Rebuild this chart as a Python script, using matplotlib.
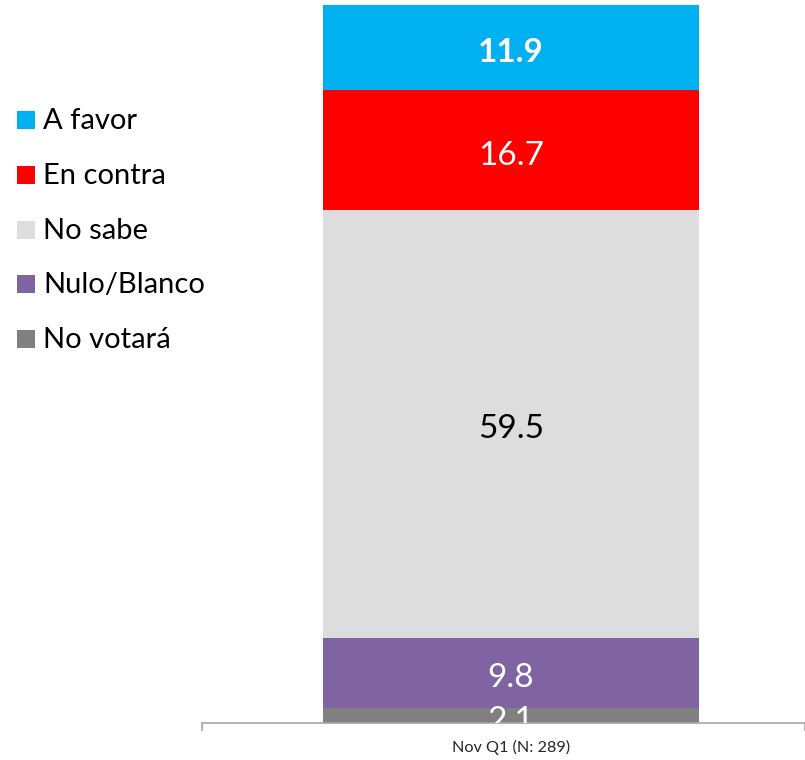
import matplotlib.pyplot as plt
from matplotlib.patches import Rectangle

# Datos (de abajo hacia arriba en la barra)
categorias = ['No votará', 'Nulo/Blanco', 'No sabe', 'En contra', 'A favor']
valores = [2.1, 9.8, 59.5, 16.7, 11.9]
colores = ['#808080', '#8064A2', '#DDDDDD', '#FF0000', '#00B0F0']
color_texto = ['white', 'white', 'black', 'white', 'white']
negrita = [False, False, False, False, True]
etiqueta_x = ['Nov Q1 (N: 289)']

plt.rcParams['font.family'] = ['Lato', 'DejaVu Sans']

fig = plt.figure(figsize=(8.05, 7.6), dpi=100)
ax = fig.add_axes([202 / 805, 37 / 760, 603 / 805, 718 / 760])

ancho = 376 / 603
centro = (511 - 202) / 603
base = 0
for cat, val, col, ct, b in zip(categorias, valores, colores, color_texto, negrita):
    ax.bar(0, val, width=ancho, bottom=base, color=col, edgecolor='none')
    ax.text(0, base + val / 2 - 0.3, f'{val:.1f}', ha='center', va='center_baseline',
            fontsize=24, color=ct, fontweight='bold' if b else 'normal',
            clip_on=True)
    base += val

ax.set_xlim(-centro, 1 - centro)
ax.set_ylim(0, 100)
ax.set_xticks([0])
ax.set_xticklabels(etiqueta_x, fontsize=11.7, color='#262626')
ax.tick_params(axis='x', length=0, pad=12)
ax.set_xticks([-centro, 1 - centro], minor=True)
ax.tick_params(axis='x', which='minor', length=6, color='#A6A6A6', width=1.2)
ax.set_yticks([])
for s in ['top', 'right', 'left']:
    ax.spines[s].set_visible(False)
ax.spines['bottom'].set_color('#A6A6A6')
ax.spines['bottom'].set_linewidth(1.2)

# Leyenda manual (de arriba hacia abajo)
filas_y = [120, 175, 230, 284, 339]
for i, (cat, col) in enumerate(zip(categorias[::-1], colores[::-1])):
    y = filas_y[i]
    fig.patches.append(Rectangle((17 / 805, 1 - (y + 9) / 760), 18 / 805, 18 / 760,
                                 transform=fig.transFigure, facecolor=col,
                                 edgecolor='none'))
    fig.text(43 / 805, 1 - (y + 1) / 760, cat, fontsize=21, va='center', ha='left',
             color='black')

fig.savefig('out.png', dpi=100)
